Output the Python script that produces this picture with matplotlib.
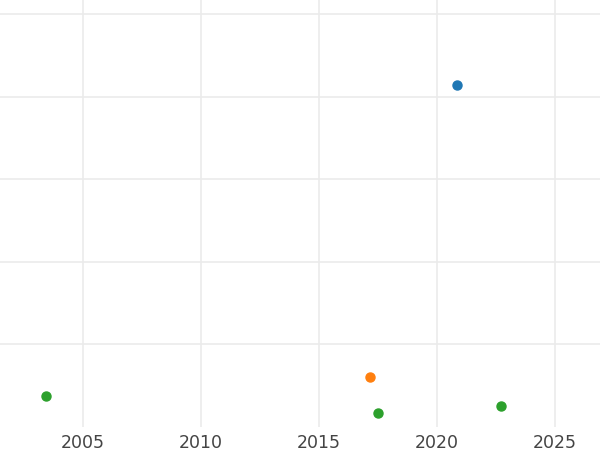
import matplotlib
matplotlib.use("Agg")
import matplotlib.pyplot as plt

# Punkty (rok, wartość)
blue_x = [2020.85]
blue_y = [41.4]
orange_x = [2017.16]
orange_y = [6.1]
green_x = [2003.43, 2017.5, 2022.71]
green_y = [3.8, 1.7, 2.55]

xticks = [2005, 2010, 2015, 2020, 2025]
yticks = [10, 20, 30, 40, 50]

fig = plt.figure(figsize=(6, 4.5), dpi=100)
ax = fig.add_axes([0, 50 / 450 - 27 / 450, 1, 1 - 23 / 450])

ax.plot(blue_x, blue_y, "o", color="#1f77b4", ms=6.5, zorder=3)
ax.plot(orange_x, orange_y, "o", color="#ff7f0e", ms=6.5, zorder=3)
ax.plot(green_x, green_y, "o", color="#2ca02c", ms=6.5, zorder=3)

ax.set_xlim(2001.48, 2026.9)
ax.set_ylim(0, 51.7)
ax.set_xticks(xticks)
ax.set_yticks(yticks)
ax.set_yticklabels([])
ax.grid(True, color="#ebebeb", lw=1.2)
ax.set_axisbelow(True)
for s in ax.spines.values():
    s.set_visible(False)
ax.tick_params(length=0, labelsize=12.5, labelcolor="#444444", pad=5)

fig.savefig("out.png", dpi=100)
